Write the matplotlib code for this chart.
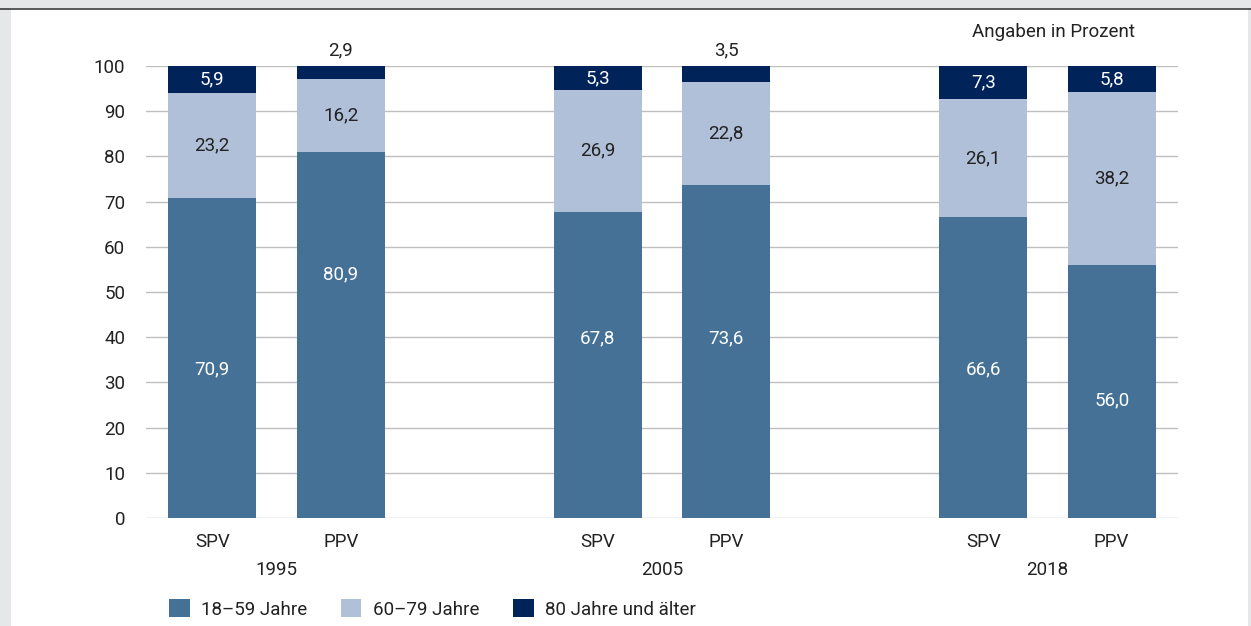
import matplotlib.pyplot as plt
from matplotlib.patches import Rectangle
from matplotlib.lines import Line2D

years = ['1995', '2005', '2018']
types = ['SPV', 'PPV', 'SPV', 'PPV', 'SPV', 'PPV']
age_18_59 = [70.9, 80.9, 67.8, 73.6, 66.6, 56.0]
age_60_79 = [23.2, 16.2, 26.9, 22.8, 26.1, 38.2]
age_80 = [5.9, 2.9, 5.3, 3.5, 7.3, 5.8]
legend_labels = ['18–59 Jahre', '60–79 Jahre', '80 Jahre und älter']
colors = ['#467196', '#b0c0d8', '#00235a']
# where the labels of the lowest segment sit, as share of the segment
label_pos_18_59 = [0.465, 0.665, 0.587, 0.54, 0.495, 0.463]

plt.rcParams['font.family'] = ['Roboto', 'DejaVu Sans']

fig = plt.figure(figsize=(12.51, 6.26), dpi=100)
fig.patch.set_facecolor('white')
# grey frame
fig.patches.append(Rectangle((0, 0), 11 / 1251, 1, transform=fig.transFigure,
                             facecolor='#e6e7e9', edgecolor='none', zorder=0))
fig.patches.append(Rectangle((0, 1 - 8 / 626), 1, 8 / 626, transform=fig.transFigure,
                             facecolor='#e6e7e9', edgecolor='none', zorder=0))
fig.patches.append(Rectangle((1 - 3 / 1251, 0), 3 / 1251, 1, transform=fig.transFigure,
                             facecolor='#e6e7e9', edgecolor='none', zorder=0))
fig.lines.append(Line2D([0, 1], [1 - 8.5 / 626, 1 - 8.5 / 626], transform=fig.transFigure,
                        color='#3c3c3c', linewidth=1.2))

ax = fig.add_axes([146 / 1251, 1 - 518 / 626, (1178 - 146) / 1251, (518 - 66) / 626])
xpos = [0, 1, 3, 4, 6, 7]
w = 0.6875

bottom2 = age_18_59
bottom3 = [a + b for a, b in zip(age_18_59, age_60_79)]
ax.bar(xpos, age_18_59, w, color=colors[0], label=legend_labels[0], zorder=2)
ax.bar(xpos, age_60_79, w, bottom=bottom2, color=colors[1], label=legend_labels[1], zorder=2)
ax.bar(xpos, age_80, w, bottom=bottom3, color=colors[2], label=legend_labels[2], zorder=2)

fs = 13.5
txt = '#222222'
for i, x in enumerate(xpos):
    ax.text(x, age_18_59[i] * label_pos_18_59[i], f'{age_18_59[i]:.1f}'.replace('.', ','),
            ha='center', va='center', color='white', fontsize=fs)
    ax.text(x, bottom2[i] + age_60_79[i] / 2, f'{age_60_79[i]:.1f}'.replace('.', ','),
            ha='center', va='center', color=txt, fontsize=fs)
    if age_80[i] < 4:
        ax.text(x, 100 + 1.5, f'{age_80[i]:.1f}'.replace('.', ','),
                ha='center', va='bottom', color=txt, fontsize=fs)
    else:
        ax.text(x, bottom3[i] + age_80[i] / 2, f'{age_80[i]:.1f}'.replace('.', ','),
                ha='center', va='center', color='white', fontsize=fs)

ax.set_xlim(-0.516, 7.516)
ax.set_ylim(0, 100)
ax.set_yticks(range(0, 101, 10))
ax.set_xticks(xpos)
ax.set_xticklabels(types)
ax.tick_params(axis='both', length=0, labelsize=fs, colors=txt)
ax.tick_params(axis='y', pad=15)
ax.tick_params(axis='x', pad=11)
ax.grid(axis='y', color='#bfbfbf', linewidth=1, zorder=0)
for s in ax.spines.values():
    s.set_visible(False)
ax.set_facecolor('white')

for k, yr in enumerate(years):
    ax.text(xpos[2 * k] + 0.5, -0.115, yr, transform=ax.get_xaxis_transform(),
            ha='center', va='center', fontsize=fs, color=txt)

ax.text(7.18, 1.075, 'Angaben in Prozent', transform=ax.get_xaxis_transform(),
        ha='right', va='center', fontsize=fs, color=txt)

fig.legend(loc='lower left', bbox_to_anchor=(152 / 1251, -0.015), ncol=3, frameon=False,
           fontsize=fs, handlelength=1.1, handleheight=1.1, columnspacing=1.8,
           handletextpad=0.6, labelcolor=txt)

fig.savefig('out.png', dpi=100)
